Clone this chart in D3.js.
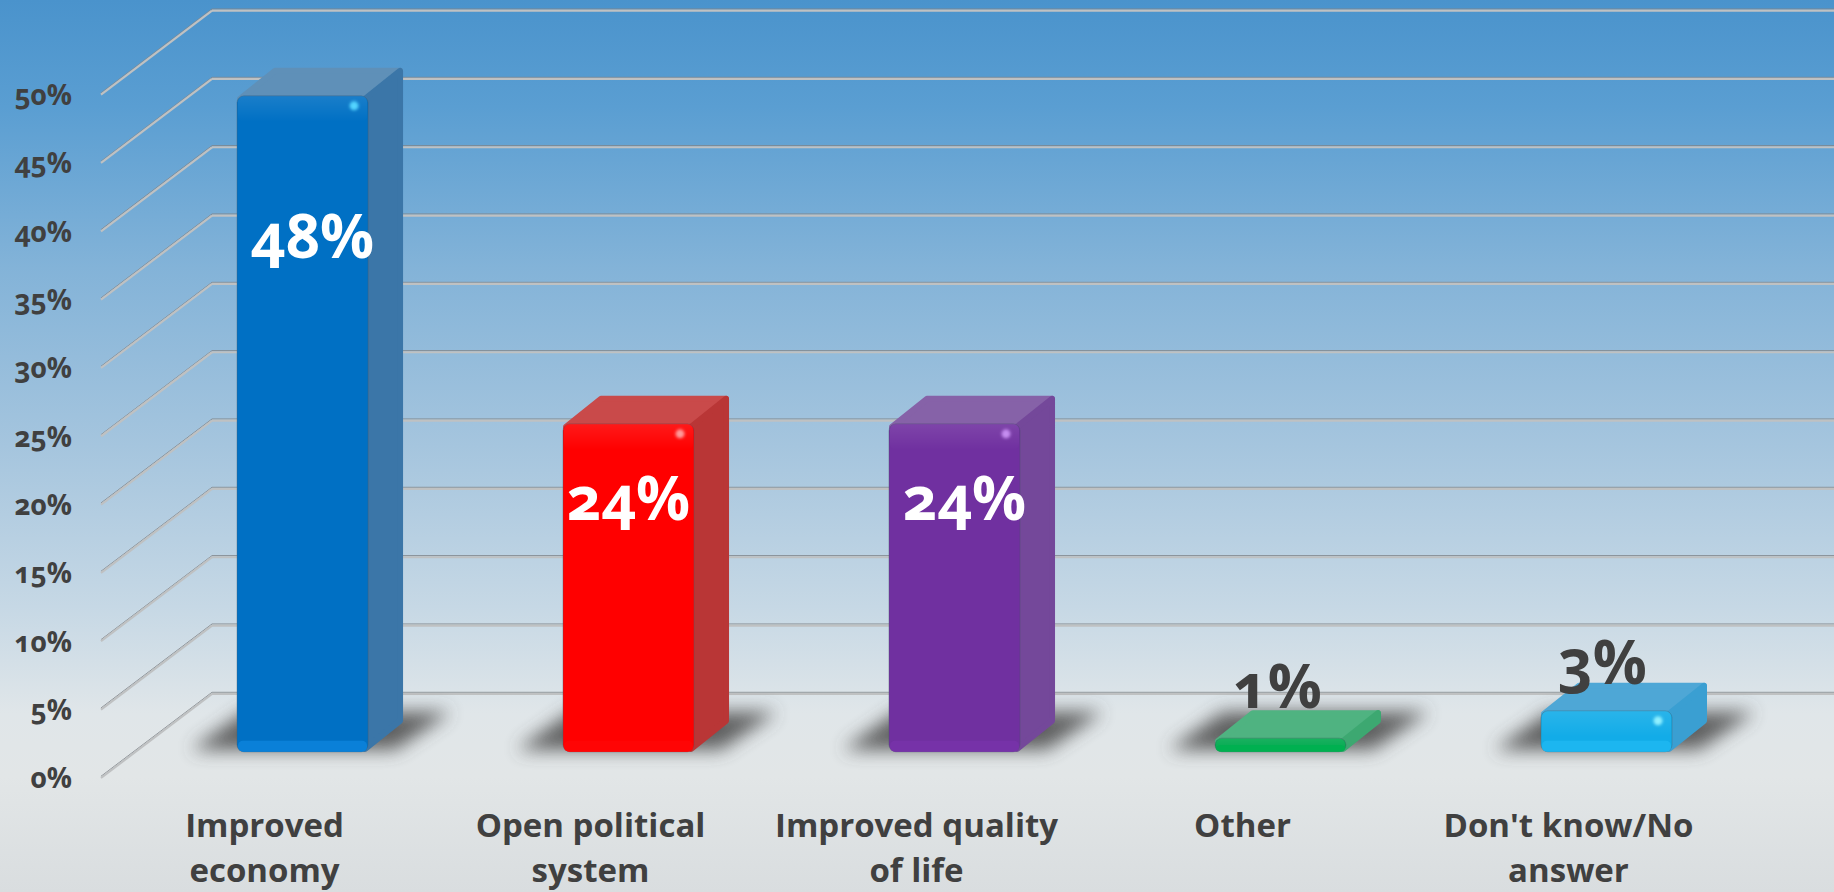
<!DOCTYPE html>
<html>
<head>
<meta charset="utf-8">
<script src="https://cdn.jsdelivr.net/npm/d3@7"></script>
<style>
  html, body { margin: 0; padding: 0; overflow: hidden; background: #dde1e3; }
  svg { display: block; }
  text { font-family: "Open Sans", "Noto Sans", sans-serif; font-feature-settings: "onum" 1; }
</style>
</head>
<body>
<svg id="chart"></svg>
<script>
const categories = ["Improved economy", "Open political system", "Improved quality of life", "Other", "Don't know/No answer"];
const values = [48, 24, 24, 1, 3];
const valueLabels = ["48%", "24%", "24%", "1%", "3%"];
const tickValues = [0, 5, 10, 15, 20, 25, 30, 35, 40, 45, 50];

const width = 1834;
const height = 892;
const depth = { x: 35, y: 28 };      // bar depth on screen
const wall = { x: 111, y: 84 };      // side wall of the 3D box
const frontShift = 58.5;             // bar front plane sits this far below the back wall

// colours per bar: front, front highlight, side, top
const palette = [
  { front: "#0070c4", light: "#0a80d8", side: "#3b76a8", top: "#5f90b8", spot: "#52d4ff" },
  { front: "#ff0000", light: "#ff0505", side: "#b93636", top: "#c94a4a", spot: "#ff9a9a" },
  { front: "#7030a0", light: "#7632a8", side: "#74489a", top: "#8662a8", spot: "#c58cf0" },
  { front: "#00a94e", light: "#00b050", side: "#3da871", top: "#4fb381", spot: "#7fe0a8" },
  { front: "#12ace8", light: "#1cb6f0", side: "#3a9fd2", top: "#4ea7d6", spot: "#8ff0ff" },
];
// data labels were placed by hand in the original
const labelDx = [10, 0, 10, -3, -4];
const labelBaseline = [258, 520, 520, 708, 684];

const svg = d3.select("#chart").attr("width", width).attr("height", height);
const defs = svg.append("defs");

const bg = defs.append("linearGradient").attr("id", "bg").attr("x1", 0).attr("x2", 0).attr("y1", 0).attr("y2", 1);
[[0, "#4a93cc"], [0.12, "#5a9ed2"], [0.3, "#83b3d8"], [0.5, "#a5c5de"], [0.68, "#c6d8e5"], [0.8, "#e0e6e9"], [0.87, "#e2e6e7"], [1, "#d9dddf"]]
  .forEach(([o, c]) => bg.append("stop").attr("offset", o).attr("stop-color", c));

defs.append("filter").attr("id", "blur").attr("x", "-30%").attr("y", "-80%").attr("width", "160%").attr("height", "260%")
  .append("feGaussianBlur").attr("stdDeviation", 9);
defs.append("filter").attr("id", "soft").attr("x", "-100%").attr("y", "-100%").attr("width", "300%").attr("height", "300%")
  .append("feGaussianBlur").attr("stdDeviation", 1.6);

const fade = defs.append("linearGradient").attr("id", "fade").attr("x1", 0).attr("x2", 0).attr("y1", 0).attr("y2", 1);
fade.append("stop").attr("offset", 0).attr("stop-color", "#ffffff").attr("stop-opacity", 0.1);
fade.append("stop").attr("offset", 1).attr("stop-color", "#ffffff").attr("stop-opacity", 0);

svg.append("rect").attr("width", width).attr("height", height).attr("fill", "url(#bg)");

const y = d3.scaleLinear().domain([0, 50]).range([693.3, 10]);
const x = d3.scaleBand().domain(categories).range([237, 1672]).paddingInner(0.598).paddingOuter(0);
const bw = x.bandwidth();
const data = categories.map((c, i) => ({ c, v: values[i], label: valueLabels[i], i }));

// walls
const grid = svg.append("g");
[["#7f858a", 0.9, -1], ["#bfc1c2", 2.2, 0.6]].forEach(([col, w, off]) => {
  grid.selectAll(null).data(tickValues).join("line")
    .attr("x1", 212).attr("x2", width)
    .attr("y1", (d) => y(d) + off).attr("y2", (d) => y(d) + off)
    .attr("stroke", col).attr("stroke-width", w);
  grid.selectAll(null).data(tickValues).join("line")
    .attr("x1", 212 - wall.x).attr("x2", 212)
    .attr("y1", (d) => y(d) + wall.y + off).attr("y2", (d) => y(d) + off)
    .attr("stroke", col).attr("stroke-width", w);
});

// y axis labels sit on the front edge of the side wall
const yFront = y.copy().range(y.range().map((r) => r + wall.y + 1.5));
const yAxis = svg.append("g").attr("transform", "translate(72,0)")
  .call(d3.axisLeft(yFront).tickValues(tickValues).tickSize(0).tickPadding(0).tickFormat((d) => d + "%"));
yAxis.select(".domain").remove();
yAxis.selectAll("text")
  .attr("fill", "#404040").attr("font-size", 28).attr("font-weight", 700)
  .style("font-family", null);

// x axis labels, offset to the left of the bars like in the original
const xAxis = svg.append("g").attr("transform", "translate(-38,800)")
  .call(d3.axisBottom(x).tickSize(0).tickPadding(0));
xAxis.select(".domain").remove();
xAxis.selectAll("text")
  .attr("fill", "#404040").attr("font-size", 33).attr("font-weight", 700)
  .style("font-family", null)
  .each(function (d) {
    const t = d3.select(this);
    t.text(null).attr("y", 0).attr("dy", null);
    const words = d.split(" ");
    let line = [];
    let dy = 0;
    let span = t.append("tspan").attr("x", 0).attr("y", 37);
    words.forEach((w) => {
      line.push(w);
      span.text(line.join(" "));
      if (span.node().getComputedTextLength() > 300) {
        line.pop();
        span.text(line.join(" "));
        line = [w];
        dy += 45;
        span = t.append("tspan").attr("x", 0).attr("y", 37 + dy).text(w);
      }
    });
  });

const base = y(0) + frontShift;
const frontY = (d) => y(d.v) + frontShift;

// shadows
svg.append("g").selectAll("path").data(data).join("path")
  .attr("filter", "url(#blur)")
  .attr("fill", "#4a4a4a").attr("opacity", 0.85)
  .attr("d", (d) => {
    const l = x(d.c);
    return `M${l - 46},${base - 2} L${l + 8},${base - 40} H${l + 214} L${l + 158},${base - 2} Z`;
  });

const bars = svg.append("g").selectAll("g").data(data).join("g");

// top face
bars.append("path")
  .attr("fill", (d) => palette[d.i].top)
  .attr("stroke", (d) => palette[d.i].top).attr("stroke-width", 6).attr("stroke-linejoin", "round")
  .attr("d", (d) => {
    const l = x(d.c) + 3;
    const t = frontY(d) + 3;
    return `M${l},${t} L${l + depth.x},${t - depth.y} H${l + bw + depth.x - 6} L${l + bw - 6},${t} Z`;
  });

// side face
bars.append("path")
  .attr("fill", (d) => palette[d.i].side)
  .attr("stroke", (d) => palette[d.i].side).attr("stroke-width", 6).attr("stroke-linejoin", "round")
  .attr("d", (d) => {
    const r = x(d.c) + bw - 3;
    return `M${r},${frontY(d) + 3} L${r + depth.x},${frontY(d) - depth.y + 3} V${base - depth.y - 3} L${r},${base - 3} Z`;
  });

// front face
bars.append("rect")
  .attr("x", (d) => x(d.c)).attr("y", frontY)
  .attr("width", bw).attr("height", (d) => base - frontY(d))
  .attr("rx", 7)
  .attr("fill", (d) => palette[d.i].front)
  .attr("stroke", "#4a5a68").attr("stroke-opacity", 0.45).attr("stroke-width", 0.8);

// bevel strips along the top and bottom of the front
bars.append("rect")
  .attr("x", (d) => x(d.c) + 1).attr("y", frontY)
  .attr("width", bw - 2).attr("height", (d) => Math.min(26, base - frontY(d)))
  .attr("rx", 6).attr("fill", "url(#fade)");
bars.append("rect")
  .attr("x", (d) => x(d.c) + 1).attr("y", (d) => base - Math.min(11, (base - frontY(d)) / 2))
  .attr("width", bw - 2).attr("height", (d) => Math.min(11, (base - frontY(d)) / 2))
  .attr("rx", 5).attr("fill", (d) => palette[d.i].light);

// little specular spot on the corner
bars.filter((d) => d.v > 1).append("circle")
  .attr("cx", (d) => x(d.c) + bw - 14).attr("cy", (d) => frontY(d) + 10)
  .attr("r", 4.5).attr("fill", (d) => palette[d.i].spot).attr("filter", "url(#soft)");

// value labels
svg.append("g").selectAll("text").data(data).join("text")
  .attr("x", (d) => x(d.c) + bw / 2 + labelDx[d.i])
  .attr("y", (d) => labelBaseline[d.i])
  .attr("text-anchor", "middle")
  .attr("font-size", 60).attr("font-weight", 700)
  .attr("fill", (d) => (d.v > 5 ? "#ffffff" : "#404040"))
  .text((d) => d.label);
</script>
</body>
</html>
